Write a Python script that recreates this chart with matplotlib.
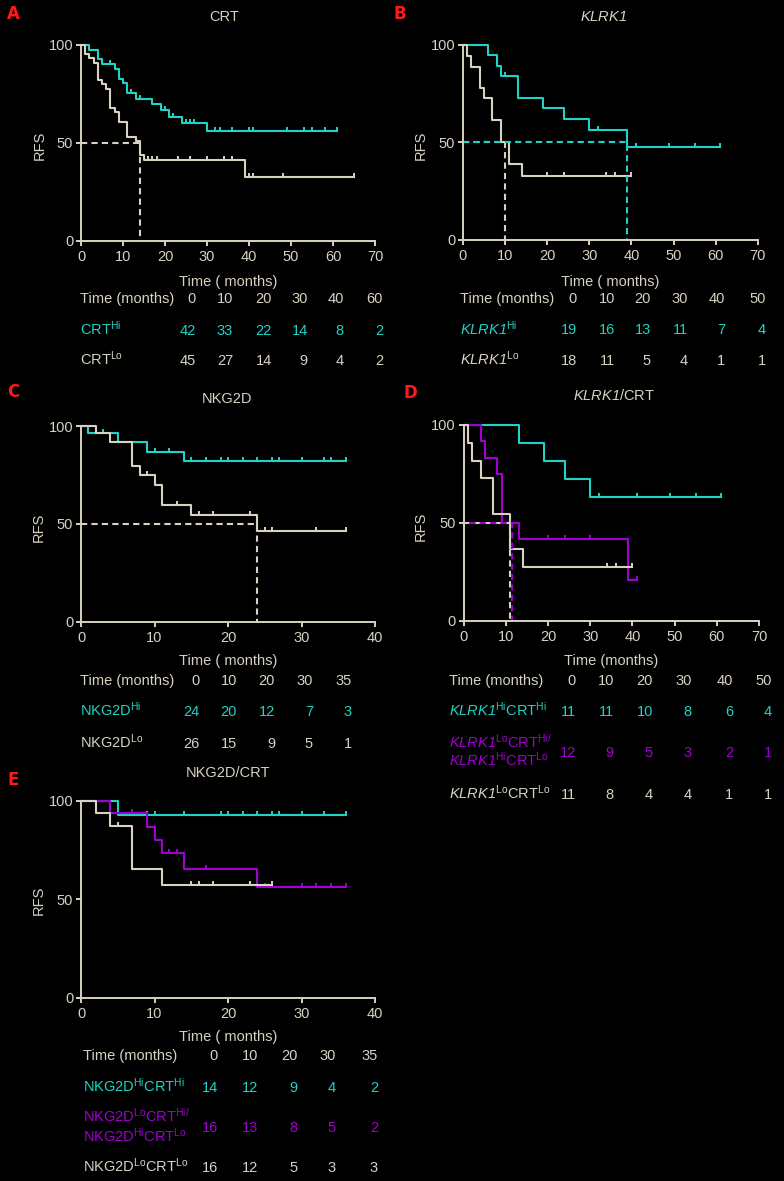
import numpy as np
import matplotlib

matplotlib.use("Agg")
import matplotlib.pyplot as plt

W, H = 784, 1181
GREY = "#d9d2c3"
CYAN = "#1fd3c6"
MAG = "#a000d0"
RED = "#ff1a1a"
FS = 10.5

plt.rcParams["font.family"] = ["Liberation Sans", "DejaVu Sans"]
plt.rcParams["mathtext.fontset"] = "custom"
plt.rcParams["mathtext.rm"] = "Liberation Sans"
plt.rcParams["mathtext.it"] = "Liberation Sans:italic"
plt.rcParams["mathtext.sf"] = "Liberation Sans:italic"  # italic gene names, digits included
plt.rcParams["mathtext.bf"] = "Liberation Sans:bold"

# ---- panel A: CRT ----
a_hi_t = [2, 4, 5, 8, 9, 10, 11, 13, 17, 19, 21, 24, 30]
a_hi_s = [97.4, 92.7, 90.3, 87.9, 82.8, 80.4, 75.3, 72.6, 69.7, 66.8, 63.4, 60.4, 56.0]
a_hi_c = [7, 12, 14, 20, 22, 25, 26, 27, 32, 33, 36, 40, 41, 49, 53, 55, 58, 61]
a_lo_t = [1, 2, 3, 4, 5, 6, 7, 8, 9, 11, 13, 14, 15, 39]
a_lo_s = [95.2, 93.2, 91.0, 82.1, 79.9, 77.6, 68.0, 65.6, 60.9, 53.2, 51.2, 43.9, 41.2, 32.8]
a_lo_c = [16, 17, 18, 23, 26, 30, 34, 36, 40, 41, 48, 65]
a_median_lo = 14
a_times = [0, 10, 20, 30, 40, 60]
a_n_hi = [42, 33, 22, 14, 8, 2]
a_n_lo = [45, 27, 14, 9, 4, 2]

# ---- panel B: KLRK1 ----
b_hi_t = [6, 8, 9, 13, 19, 24, 30, 39]
b_hi_s = [94.7, 89.2, 84.1, 72.9, 67.4, 61.8, 56.3, 47.8]
b_hi_c = [10, 32, 41, 49, 55, 61]
b_lo_t = [1, 2, 4, 5, 7, 9, 11, 14]
b_lo_s = [94.4, 88.7, 77.8, 72.7, 61.6, 50.0, 38.7, 32.9]
b_lo_c = [20, 24, 34, 36, 40]
b_median_hi = 39
b_median_lo = 10
b_times = [0, 10, 20, 30, 40, 50]
b_n_hi = [19, 16, 13, 11, 7, 4]
b_n_lo = [18, 11, 5, 4, 1, 1]

# ---- panel C: NKG2D ----
c_hi_t = [1, 5, 9, 14]
c_hi_s = [96.2, 91.7, 86.9, 82.3]
c_hi_c = [3, 10, 12, 15, 17, 19, 20, 22, 24, 26, 27, 30, 33, 34, 36]
c_lo_t = [2, 4, 7, 8, 10, 11, 15, 24]
c_lo_s = [96.2, 91.9, 79.6, 74.9, 69.8, 59.8, 54.3, 46.5]
c_lo_c = [9, 13, 16, 18, 23, 25, 26, 32, 36]
c_median_lo = 24
c_times = [0, 10, 20, 30, 35]
c_n_hi = [24, 20, 12, 7, 3]
c_n_lo = [26, 15, 9, 5, 1]

# ---- panel D: KLRK1/CRT ----
d_hi_t = [13, 19, 24, 30]
d_hi_s = [91.0, 81.8, 72.6, 63.4]
d_hi_c = [32, 41, 49, 55, 61]
d_mid_t = [4, 5, 8, 9, 13, 39]
d_mid_s = [91.7, 83.3, 75.0, 50.0, 41.7, 20.8]
d_mid_c = [20, 24, 30, 41]
d_lo_t = [1, 2, 4, 7, 11, 14]
d_lo_s = [90.9, 81.8, 72.7, 54.5, 36.4, 27.3]
d_lo_c = [34, 36, 40]
d_median_mid = 11.4
d_median_lo = 11
d_times = [0, 10, 20, 30, 40, 50]
d_n_hi = [11, 11, 10, 8, 6, 4]
d_n_mid = [12, 9, 5, 3, 2, 1]
d_n_lo = [11, 8, 4, 4, 1, 1]

# ---- panel E: NKG2D/CRT ----
e_hi_t = [5]
e_hi_s = [92.9]
e_hi_c = [9, 10, 14, 19, 20, 22, 24, 26, 27, 30, 33, 36]
e_mid_t = [4, 9, 10, 11, 14, 24]
e_mid_s = [93.8, 86.9, 80.3, 73.7, 65.6, 56.4]
e_mid_c = [7, 12, 13, 17, 25, 30, 32, 34, 36]
e_lo_t = [2, 4, 7, 11]
e_lo_s = [93.8, 87.5, 65.6, 57.4]
e_lo_c = [5, 15, 16, 18, 23, 26]
e_times = [0, 10, 20, 30, 35]
e_n_hi = [14, 12, 9, 4, 2]
e_n_mid = [16, 13, 8, 5, 2]
e_n_lo = [16, 12, 5, 3, 3]

fig = plt.figure(figsize=(W / 100, H / 100), dpi=100, facecolor="black")


def P(x, y):
    return x / W, 1 - y / H


def txt(x, y, s, ha="left", color=GREY, **kw):
    # y is the visual centre of the cap height (pixels from top)
    fig.text(*P(x, y + 5.2), s, ha=ha, va="baseline", color=color, fontsize=FS, **kw)


def make_ax(x0, x1, ytop, ybot, xmax):
    ax = fig.add_axes([x0 / W, 1 - ybot / H, (x1 - x0) / W, (ybot - ytop) / H])
    ax.set_facecolor("none")
    ax.set_xlim(0, xmax)
    ax.set_ylim(0, 100)
    ax.set_xticks(range(0, xmax + 1, 10))
    ax.set_yticks([0, 50, 100])
    for sp in ["top", "right"]:
        ax.spines[sp].set_visible(False)
    for sp in ["left", "bottom"]:
        ax.spines[sp].set_color(GREY)
        ax.spines[sp].set_linewidth(1.4)
    ax.tick_params(colors=GREY, labelcolor=GREY, labelsize=FS, length=3.6, width=1.4)
    ax.tick_params(axis="x", pad=3.0)
    ax.tick_params(axis="y", pad=2.0)
    return ax


def km(ax, t, s, c, color):
    t = np.asarray(t, float)
    s = np.asarray(s, float)
    end = max(t.max(), max(c))
    xs = np.r_[0, t, end]
    ys = np.r_[100, s, s[-1]]
    ax.step(xs, ys, where="post", color=color, lw=1.5, clip_on=False)
    lev = np.r_[100, s][np.searchsorted(t, c, side="right")]
    ax.plot(c, lev, ls="none", marker=[(0, 0), (0, 1)], ms=5.5, mew=1.4,
            color=color, clip_on=False)


def median(ax, m, color, offset=0):
    ax.plot([0, m, m], [50, 50, 0], color=color, lw=1.5, ls=(offset, (3, 2)), clip_on=False)


def panel_text(letter, lx, ly, title, tx, ty, rx, ry, xlab, xx, xy):
    fig.text(*P(lx, ly + 6), letter, color=RED, fontsize=12, fontweight="bold",
             family=["Liberation Sans Narrow", "DejaVu Sans"], ha="center", va="baseline")
    txt(tx, ty, title, ha="center")
    fig.text(*P(rx, ry), "RFS", rotation=90, ha="center", va="center", color=GREY, fontsize=FS)
    txt(xx, xy, xlab, ha="center")


def table(xl, rights, yh, times, rows):
    txt(xl, yh, "Time (months)")
    for r, tm in zip(rights, times):
        txt(r, yh, str(tm), ha="right")
    for labels, counts, color, ylines, yn in rows:
        for lab, yl in zip(labels, ylines):
            txt(xl, yl, lab, color=color)
        for r, n in zip(rights, counts):
            txt(r, yn, str(n), ha="right", color=color)


# ---- A ----
ax = make_ax(81, 375, 45, 241, 70)
km(ax, a_hi_t, a_hi_s, a_hi_c, CYAN)
km(ax, a_lo_t, a_lo_s, a_lo_c, GREY)
median(ax, a_median_lo, GREY)
panel_text("A", 13, 13, "CRT", 224, 16, 40, 145, "Time ( months)", 228, 281)
table(80, [196, 233, 272, 308, 344, 383], 298, a_times, [
    ([r"CRT$^{\mathrm{Hi}}$"], a_n_hi, CYAN, [330], 330),
    ([r"CRT$^{\mathrm{Lo}}$"], a_n_lo, GREY, [360], 360),
])

# ---- B ----
ax = make_ax(463, 757.7, 44.7, 240, 70)
km(ax, b_hi_t, b_hi_s, b_hi_c, CYAN)
km(ax, b_lo_t, b_lo_s, b_lo_c, GREY)
median(ax, b_median_lo, GREY)
median(ax, b_median_hi, CYAN)
panel_text("B", 399.5, 13, r"$\mathsf{KLRK1}$", 604, 16, 421, 145, "Time ( months)", 610, 281)
table(460, [577, 615, 651, 688, 725, 766], 298, b_times, [
    ([r"$\mathsf{KLRK1}^{\mathrm{Hi}}$"], b_n_hi, CYAN, [329], 329),
    ([r"$\mathsf{KLRK1}^{\mathrm{Lo}}$"], b_n_lo, GREY, [360], 360),
])

# ---- C ----
ax = make_ax(81, 375, 426, 621.7, 40)
km(ax, c_hi_t, c_hi_s, c_hi_c, CYAN)
km(ax, c_lo_t, c_lo_s, c_lo_c, GREY)
median(ax, c_median_lo, GREY)
panel_text("C", 13, 391, "NKG2D", 227, 398, 39, 527, "Time ( months)", 228, 660)
table(80, [200, 237, 275, 313, 352], 680, c_times, [
    ([r"NKG2D$^{\mathrm{Hi}}$"], c_n_hi, CYAN, [711], 711),
    ([r"NKG2D$^{\mathrm{Lo}}$"], c_n_lo, GREY, [743], 743),
])

# ---- D ----
ax = make_ax(463.7, 759, 425, 620.7, 70)
km(ax, d_hi_t, d_hi_s, d_hi_c, CYAN)
km(ax, d_mid_t, d_mid_s, d_mid_c, MAG)
km(ax, d_lo_t, d_lo_s, d_lo_c, GREY)
median(ax, d_median_lo, GREY)
median(ax, d_median_mid, MAG, offset=2.5)
panel_text("D", 410, 392, r"$\mathsf{KLRK1}$/CRT", 614, 395, 421, 526, "Time (months)", 611, 660)
table(449, [576, 614, 653, 692, 733, 772], 680, d_times, [
    ([r"$\mathsf{KLRK1}^{\mathrm{Hi}}$CRT$^{\mathrm{Hi}}$"], d_n_hi, CYAN, [711], 711),
    ([r"$\mathsf{KLRK1}^{\mathrm{Lo}}$CRT$^{\mathrm{Hi/}}$",
      r"$\mathsf{KLRK1}^{\mathrm{Hi}}$CRT$^{\mathrm{Lo}}$"], d_n_mid, MAG, [743, 760], 752),
    ([r"$\mathsf{KLRK1}^{\mathrm{Lo}}$CRT$^{\mathrm{Lo}}$"], d_n_lo, GREY, [794], 794),
])

# ---- E ----
ax = make_ax(81, 375, 801, 997.7, 40)
km(ax, e_hi_t, e_hi_s, e_hi_c, CYAN)
km(ax, e_mid_t, e_mid_s, e_mid_c, MAG)
km(ax, e_lo_t, e_lo_s, e_lo_c, GREY)
panel_text("E", 13, 779, "NKG2D/CRT", 228, 772, 39, 900, "Time ( months)", 228, 1036)
table(83, [218, 258, 298, 336, 378], 1055, e_times, [
    ([r"NKG2D$^{\mathrm{Hi}}$CRT$^{\mathrm{Hi}}$"], e_n_hi, CYAN, [1087], 1087),
    ([r"NKG2D$^{\mathrm{Lo}}$CRT$^{\mathrm{Hi/}}$",
      r"NKG2D$^{\mathrm{Hi}}$CRT$^{\mathrm{Lo}}$"], e_n_mid, MAG, [1117, 1136], 1127),
    ([r"NKG2D$^{\mathrm{Lo}}$CRT$^{\mathrm{Lo}}$"], e_n_lo, GREY, [1167], 1167),
])

fig.savefig("out.png", dpi=100, facecolor="black")
